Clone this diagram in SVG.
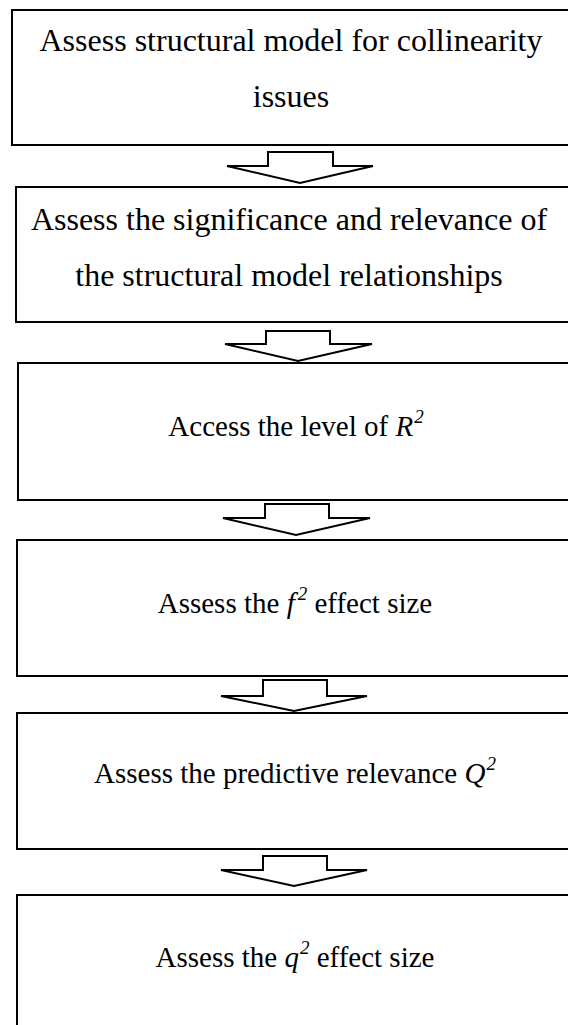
<svg xmlns="http://www.w3.org/2000/svg" width="568" height="1025" viewBox="0 0 568 1025">
<style>
.box{fill:#fff;stroke:#000;stroke-width:2}
.arr{fill:#fff;stroke:#000;stroke-width:2;stroke-linejoin:miter}
.t1{font-family:"Liberation Serif","Times New Roman",serif;font-size:32px;fill:#000;text-anchor:middle}
.t2{font-family:"Liberation Serif","Times New Roman",serif;font-size:29px;fill:#000;text-anchor:middle}
.i{font-style:italic}
.sup{font-size:19px;font-style:italic}
</style>
<rect width="568" height="1025" fill="#fff"/>
<g id="connectors">
<polygon class="arr" points="268,152 333,152 333,166 373,166 300,183 227,166 268,166"/>
<polygon class="arr" points="266,331 330,331 330,344 372,344 298,361 225,344 266,344"/>
<polygon class="arr" points="265,504 329,504 329,518 370,518 296,535 223,518 265,518"/>
<polygon class="arr" points="263,680 327,680 327,696 367,696 294,711 221,696 263,696"/>
<polygon class="arr" points="263,856 327,856 327,870 367,870 294,886 221,870 263,870"/>
</g>
<g id="node1">
<rect class="box" x="12" y="10" width="580" height="135"/>
<text class="t1" x="291" y="51">Assess structural model for collinearity</text>
<text class="t1" x="291" y="107">issues</text>
</g>
<g id="node2">
<rect class="box" x="16" y="187" width="580" height="135"/>
<text class="t1" x="289" y="230">Assess the significance and relevance of</text>
<text class="t1" x="289" y="286">the structural model relationships</text>
</g>
<g id="node3">
<rect class="box" x="18" y="363" width="580" height="137"/>
<text class="t2" x="296" y="436">Access the level of <tspan class="i">R</tspan><tspan class="sup" dx="1" dy="-13">2</tspan></text>
</g>
<g id="node4">
<rect class="box" x="17" y="540" width="580" height="136"/>
<text class="t2" x="295" y="613">Assess the <tspan class="i">f</tspan><tspan class="sup" dx="3" dy="-13">2</tspan><tspan dy="13"> effect size</tspan></text>
</g>
<g id="node5">
<rect class="box" x="17" y="713" width="580" height="136"/>
<text class="t2" x="295" y="783">Assess the predictive relevance <tspan class="i">Q</tspan><tspan class="sup" dx="1" dy="-13">2</tspan></text>
</g>
<g id="node6">
<rect class="box" x="17" y="895" width="580" height="140"/>
<text class="t2" x="295" y="967">Assess the <tspan class="i">q</tspan><tspan class="sup" dx="1" dy="-13">2</tspan><tspan dy="13"> effect size</tspan></text>
</g>
</svg>
